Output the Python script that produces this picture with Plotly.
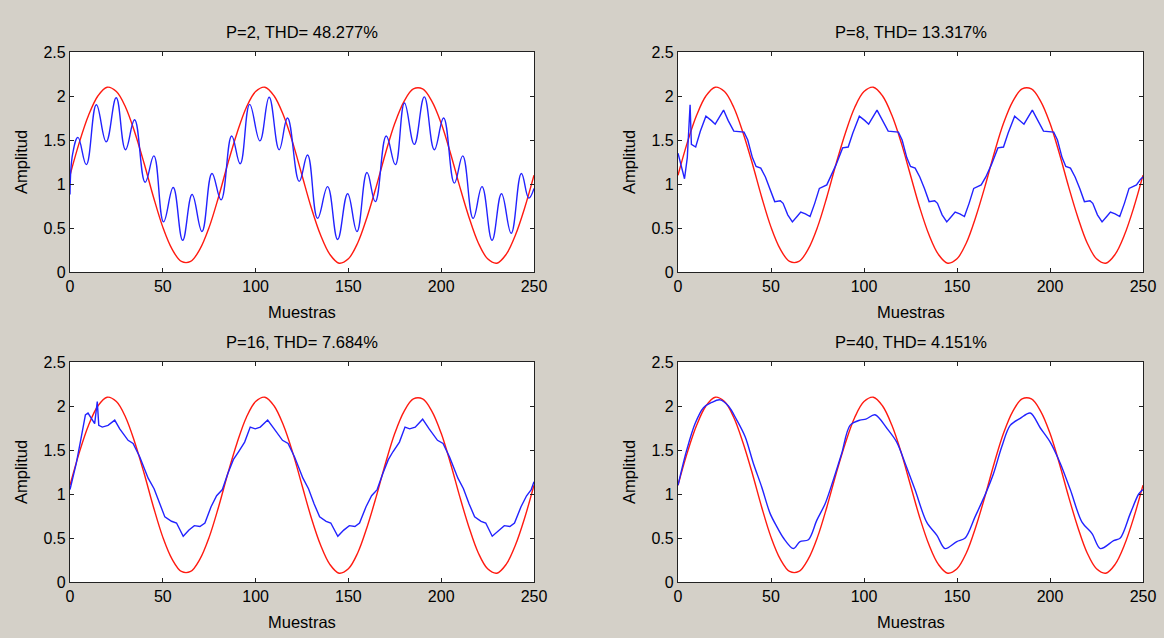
import plotly.graph_objects as go

# ---------------- data ----------------
titles = ["P=2, THD= 48.277%", "P=8, THD= 13.317%", "P=16, THD= 7.684%", "P=40, THD= 4.151%"]
x_label = "Muestras"
y_label = "Amplitud"
x_ticks = [0, 50, 100, 150, 200, 250]
y_ticks = [0, 0.5, 1, 1.5, 2, 2.5]
y_tick_text = ["0", "0.5", "1", "1.5", "2", "2.5"]

# reference sine (red), sampled every 5 samples
red_x = list(range(0, 251, 5))
red_y = [1.10, 1.47, 1.78, 2.00, 2.10, 2.05, 1.87, 1.58, 1.23, 0.85,
         0.51, 0.26, 0.12, 0.12, 0.26, 0.51, 0.85, 1.23, 1.58, 1.87,
         2.05, 2.10, 2.00, 1.78, 1.47, 1.10, 0.73, 0.42, 0.20, 0.10,
         0.15, 0.33, 0.62, 0.97, 1.35, 1.69, 1.94, 2.08, 2.08, 1.94,
         1.69, 1.35, 0.97, 0.62, 0.33, 0.15, 0.10, 0.20, 0.42, 0.73, 1.10]

# P=2 filtered signal (blue) - local extrema
p2_x = [0, 1.5, 4.3, 8.8, 14.2, 19.5, 24.9, 29.9, 34.8, 40.5, 45.2, 50.4, 55.6, 60.7,
        65.8, 71.1, 76.5, 81.4, 87.1, 91.7, 96.8, 102.3, 107.3, 112.7, 117.2, 123.5,
        128.0, 133.4, 138.8, 144.2, 149.6, 154.6, 160.0, 164.5, 170.4, 175.3, 180.2,
        185.5, 190.9, 196.3, 201.3, 207.1, 211.6, 217.2, 222.0, 227.4, 232.5, 237.7,
        243.2, 247.2, 250]
p2_y = [0.88, 1.35, 1.53, 1.22, 1.90, 1.48, 1.98, 1.39, 1.73, 1.02, 1.32, 0.57, 0.96, 0.36,
        0.88, 0.46, 1.12, 0.82, 1.545, 1.23, 1.905, 1.49, 1.985, 1.39, 1.75, 1.03,
        1.33, 0.61, 0.97, 0.37, 0.89, 0.46, 1.13, 0.80, 1.545, 1.22, 1.92,
        1.45, 1.99, 1.39, 1.75, 1.01, 1.32, 0.61, 0.97, 0.36, 0.89, 0.44,
        1.12, 0.84, 0.95]

# P=8 filtered signal (blue)
p8_x = [0, 2, 3.5, 5, 6.5, 7.2, 9.5, 12, 15, 18, 20, 24.5, 27, 30, 35.5, 37.5, 40, 42, 44.5,
        47, 49.5, 52, 55, 56.5, 59, 61.5, 64, 66, 68.5, 71, 73.5, 76, 80, 82, 85, 88.5,
        91.5, 94, 97.5, 100.5, 102.5, 107, 110, 113, 118.5, 120.5, 123, 125, 127.5, 130,
        132.5, 135, 138, 139.5, 142, 144.5, 147, 149, 151.5, 154, 156.5, 159, 163, 165.5,
        168.5, 172, 175, 177.5, 181, 184, 186, 190.5, 193.5, 196.5, 202, 204, 206.5, 208.5,
        211, 213.5, 216, 218.5, 221.5, 223, 225.5, 228, 230.5, 232.5, 235, 237.5, 240,
        242.5, 246.5, 248.5, 250]
p8_y = [1.35, 1.20, 1.06, 1.30, 1.90, 1.45, 1.42, 1.60, 1.77, 1.72, 1.68, 1.84, 1.72, 1.60,
        1.59, 1.50, 1.30, 1.20, 1.18, 1.08, 0.95, 0.80, 0.81, 0.78, 0.65, 0.57, 0.63, 0.68,
        0.66, 0.63, 0.78, 0.95, 0.99, 1.08, 1.22, 1.41, 1.42, 1.58, 1.77, 1.72, 1.68, 1.84,
        1.72, 1.60, 1.59, 1.50, 1.30, 1.20, 1.18, 1.08, 0.95, 0.80, 0.81, 0.78, 0.65, 0.57,
        0.63, 0.68, 0.66, 0.63, 0.78, 0.95, 0.99, 1.08, 1.22, 1.41, 1.42, 1.58, 1.77, 1.72,
        1.68, 1.84, 1.72, 1.60, 1.59, 1.50, 1.30, 1.20, 1.18, 1.08, 0.95, 0.80, 0.81, 0.78,
        0.65, 0.57, 0.63, 0.68, 0.66, 0.63, 0.78, 0.95, 0.99, 1.05, 1.08]

# P=16 filtered signal (blue)
p16_x = [0, 3.4, 6.1, 8.3, 9.7, 11.9, 13.3, 14.7, 15.5, 17.4, 20.5, 24.1, 26.8, 31.3, 34,
         37.6, 42.1, 45.3, 48.4, 51.1, 54.7, 57.4, 61, 64.1, 67, 70, 72.7, 76, 79, 82.1, 85,
         88, 90.8, 94.1, 97.1, 99.8, 102.5, 106.5, 110, 114.5, 117.5, 121, 125.5, 128.5,
         131.5, 134.5, 138, 140.5, 144.3, 147.5, 150.5, 153.5, 156, 159.5, 162.5, 165.5,
         168.5, 171.5, 174, 177.5, 180.5, 183, 186, 190, 193.5, 198, 201, 204.5, 209, 212,
         215, 218, 221.5, 224, 227.5, 231, 234, 237, 239.5, 243, 246, 248.5, 250]
p16_y = [1.05, 1.35, 1.65, 1.90, 1.92, 1.84, 1.80, 2.05, 1.78, 1.76, 1.78, 1.84, 1.74, 1.61,
         1.575, 1.42, 1.18, 1.06, 0.89, 0.74, 0.69, 0.67, 0.52, 0.59, 0.64, 0.63, 0.67, 0.855,
         0.98, 1.05, 1.23, 1.39, 1.48, 1.59, 1.76, 1.74, 1.76, 1.84, 1.74, 1.61, 1.575, 1.42,
         1.18, 1.06, 0.89, 0.74, 0.69, 0.67, 0.52, 0.59, 0.64, 0.63, 0.67, 0.855, 0.98, 1.05,
         1.23, 1.39, 1.48, 1.59, 1.76, 1.74, 1.76, 1.85, 1.74, 1.61, 1.575, 1.42, 1.18, 1.06,
         0.89, 0.74, 0.69, 0.67, 0.52, 0.59, 0.64, 0.63, 0.67, 0.855, 0.98, 1.05, 1.14]

# P=40 filtered signal (blue)
p40_x = [0, 4.7, 9.2, 13.7, 18.1, 22.6, 27.1, 31.6, 36.1, 40.5, 45, 49.5, 53.1, 56.7, 62,
         65.6, 70.1, 74.6, 79.1, 83.5, 88, 92.5, 97.8, 101, 105.9, 112.2, 117.6, 122.1,
         127.4, 133.7, 139.2, 143.6, 149.9, 154.4, 159.7, 165.1, 169.6, 174.1, 178.6, 184,
         189.4, 194.8, 200.1, 205.5, 210.9, 217.2, 222.6, 227.1, 234.2, 237.8, 243.2, 247.7, 250]
p40_y = [1.10, 1.50, 1.80, 1.98, 2.04, 2.07, 2.00, 1.84, 1.65, 1.35, 1.08, 0.78, 0.63, 0.50,
         0.38, 0.46, 0.48, 0.70, 0.89, 1.16, 1.46, 1.78, 1.84, 1.85, 1.90, 1.75, 1.59, 1.35,
         1.05, 0.68, 0.53, 0.38, 0.46, 0.50, 0.74, 0.99, 1.23, 1.54, 1.78, 1.86, 1.92, 1.75,
         1.59, 1.35, 1.05, 0.68, 0.55, 0.38, 0.47, 0.50, 0.78, 1.00, 1.05]

blue_x = [p2_x, p8_x, p16_x, p40_x]
blue_y = [p2_y, p8_y, p16_y, p40_y]
blue_shape = ["spline", "linear", "linear", "spline"]
blue_smooth = [1.2, None, None, 0.9]

# ---------------- layout ----------------
W, H = 1164, 638
BG = "#d4d0c8"
FONT = "Liberation Sans, Arial, sans-serif"
RED = "#ff1a10"
BLUE = "#2222ff"
TXT = 16.5
TICK = 16

# axes pixel boxes: (left, right, top, bottom)
boxes = [(70, 534, 52, 272), (678, 1143, 52, 272),
         (70, 534, 362, 582), (678, 1143, 362, 582)]

fig = go.Figure()
layout_axes = {}
annotations = []
for i, (l, r, t, b) in enumerate(boxes):
    n = "" if i == 0 else str(i + 1)
    xa, ya = "x" + n, "y" + n
    fig.add_trace(go.Scatter(x=red_x, y=red_y, mode="lines", xaxis=xa, yaxis=ya,
                             line=dict(color=RED, width=1.4, shape="spline", smoothing=1.0),
                             showlegend=False, hoverinfo="skip"))
    fig.add_trace(go.Scatter(x=blue_x[i], y=blue_y[i], mode="lines", xaxis=xa, yaxis=ya,
                             line=dict(color=BLUE, width=1.4, shape=blue_shape[i],
                                       smoothing=blue_smooth[i]),
                             showlegend=False, hoverinfo="skip"))
    common = dict(showgrid=False, zeroline=False, showline=True, linecolor="#222222",
                  linewidth=1.2, mirror="allticks", ticks="inside", ticklen=4,
                  tickcolor="#222222", automargin=False,
                  tickfont=dict(family=FONT, size=TICK, color="black"))
    layout_axes["xaxis" + n] = dict(domain=[l / W, r / W], range=[0, 250],
                                    tickvals=x_ticks, anchor=ya, **common)
    layout_axes["yaxis" + n] = dict(domain=[1 - b / H, 1 - t / H], range=[0, 2.5],
                                    tickvals=y_ticks, ticktext=y_tick_text, anchor=xa,
                                    **common)
    cx = (l + r) / 2
    annotations.append(dict(text=titles[i], x=cx / W, y=1 - (t - 20) / H, xref="paper",
                            yref="paper", showarrow=False, xanchor="center", yanchor="middle",
                            font=dict(family=FONT, size=TXT, color="black")))
    annotations.append(dict(text=x_label, x=cx / W, y=1 - (b + 40) / H, xref="paper",
                            yref="paper", showarrow=False, xanchor="center", yanchor="middle",
                            font=dict(family=FONT, size=TXT, color="black")))
    annotations.append(dict(text=y_label, x=(l - 49) / W, y=1 - ((t + b) / 2) / H,
                            xref="paper", yref="paper", showarrow=False, textangle=-90,
                            xanchor="center", yanchor="middle",
                            font=dict(family=FONT, size=TXT, color="black")))

fig.update_layout(template="none", width=W, height=H, autosize=False,
                  margin=dict(l=0, r=0, t=0, b=0, pad=0),
                  paper_bgcolor=BG, plot_bgcolor="white", annotations=annotations,
                  **layout_axes)

fig.write_html("out.html", config={"displayModeBar": False},
               post_script="document.body.style.margin='0';document.body.style.padding='0';"
                           "document.body.style.overflow='hidden';")
